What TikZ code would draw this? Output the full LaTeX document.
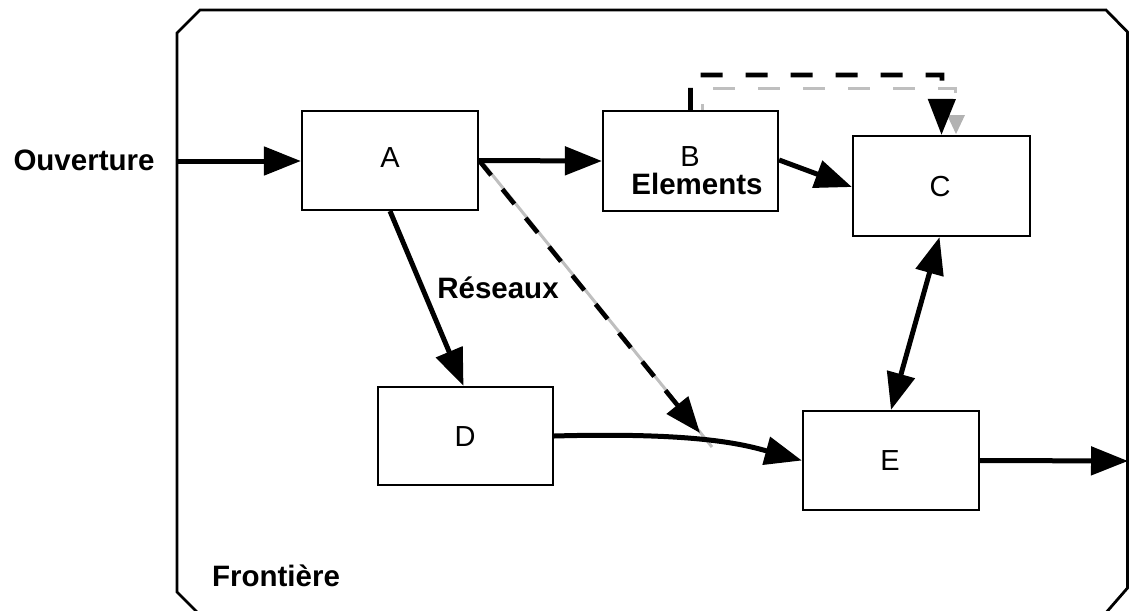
\documentclass[tikz,border=0pt]{standalone}
\usepackage{fontspec}
\setmainfont{Liberation Sans}
\usetikzlibrary{arrows.meta}
\tikzset{
  box/.style={draw=black, line width=2.2pt, fill=white, rectangle, inner sep=0pt},
  lbl/.style={inner sep=0pt, font=\fontsize{29}{34}\selectfont},
  blbl/.style={inner sep=0pt, font=\fontsize{29.5}{34}\selectfont\bfseries},
  arr/.style={line width=5pt, -{Triangle[length=37pt,width=28pt]}},
  dasharr/.style={line width=4.6pt, dash pattern=on 22pt off 23pt, -{Triangle[length=36pt,width=27pt]}},
  diagdash/.style={line width=4.6pt, dash pattern=on 19pt off 18pt, -{Triangle[length=36pt,width=27pt]}},
  shadow/.style={draw=black!25, line width=3pt},
  frontier/.style={line width=2.8pt, line join=miter}
}
\begin{document}
\begin{tikzpicture}[x=1pt,y=-1pt]
\useasboundingbox (0,0) rectangle (1129,610);

% outer boundary with chamfered corners
\draw[frontier] (177,33) -- (200,10) -- (1106,10) -- (1127.5,32)
  -- (1127.5,588) -- (1104,615) -- (200,615) -- (177,592) -- cycle;

% soft shadows under the dashed links
\draw[shadow] (702,111) -- (702,104);
\draw[shadow, dash pattern=on 22pt off 23pt] (713,88) -- (955,88) -- (955,118);
\fill[black!30] (947,115) -- (965,115) -- (956,134) -- cycle;
\draw[shadow] (482,162) -- (712,447);

% boxes
\node[box, minimum width=176pt, minimum height=99pt] (A) at (390,160.5) {};
\node[box, minimum width=175pt, minimum height=100pt] (B) at (690.5,161) {};
\node[box, minimum width=177pt, minimum height=100pt] (C) at (941.5,186) {};
\node[box, minimum width=175pt, minimum height=98pt] (D) at (465.5,436) {};
\node[box, minimum width=176pt, minimum height=99pt] (E) at (891,460.5) {};

% box labels
\node[lbl] (Alabel) at (390,158) {A};
\node[lbl] (Blabel) at (690,157) {B};
\node[blbl] (Belem) at (697,184) {Elements};
\node[lbl] (Clabel) at (940,187) {C};
\node[lbl] (Dlabel) at (465,437) {D};
\node[lbl] (Elabel) at (890,461) {E};

% free labels
\node[blbl] (ouv) at (84,160) {Ouverture};
\node[blbl] (res) at (498,288) {Réseaux};
\node[blbl] (front) at (276,576) {Frontière};

% free ends and bends
\coordinate (inlet) at (177,161);
\coordinate (outlet) at (1128,461);
\coordinate (loop) at (942,75);
\coordinate (meet) at (700,433);

% connectors
\draw[arr] (inlet) -- (A.west |- inlet);
\draw[arr] (A.east) -- (B.west);
\draw[arr] ([yshift=1pt]B.east) -- ([yshift=-1pt]C.west);
\draw[arr] (A.south) -- ([xshift=-2pt]D.north);
\draw[arr] (D.east) .. controls (700,432) and (745,445) .. (E.west);
\draw[line width=5pt, {Triangle[length=37pt,width=28pt]}-{Triangle[length=37pt,width=28pt]}]
  ([xshift=-2pt]C.south) -- (E.north);
\draw[arr] (E.east) -- (outlet);
\draw[diagdash] (A.east) -- (meet);
\draw[dasharr] (B.north) |- (loop) -- (C.north);
\end{tikzpicture}
\end{document}
